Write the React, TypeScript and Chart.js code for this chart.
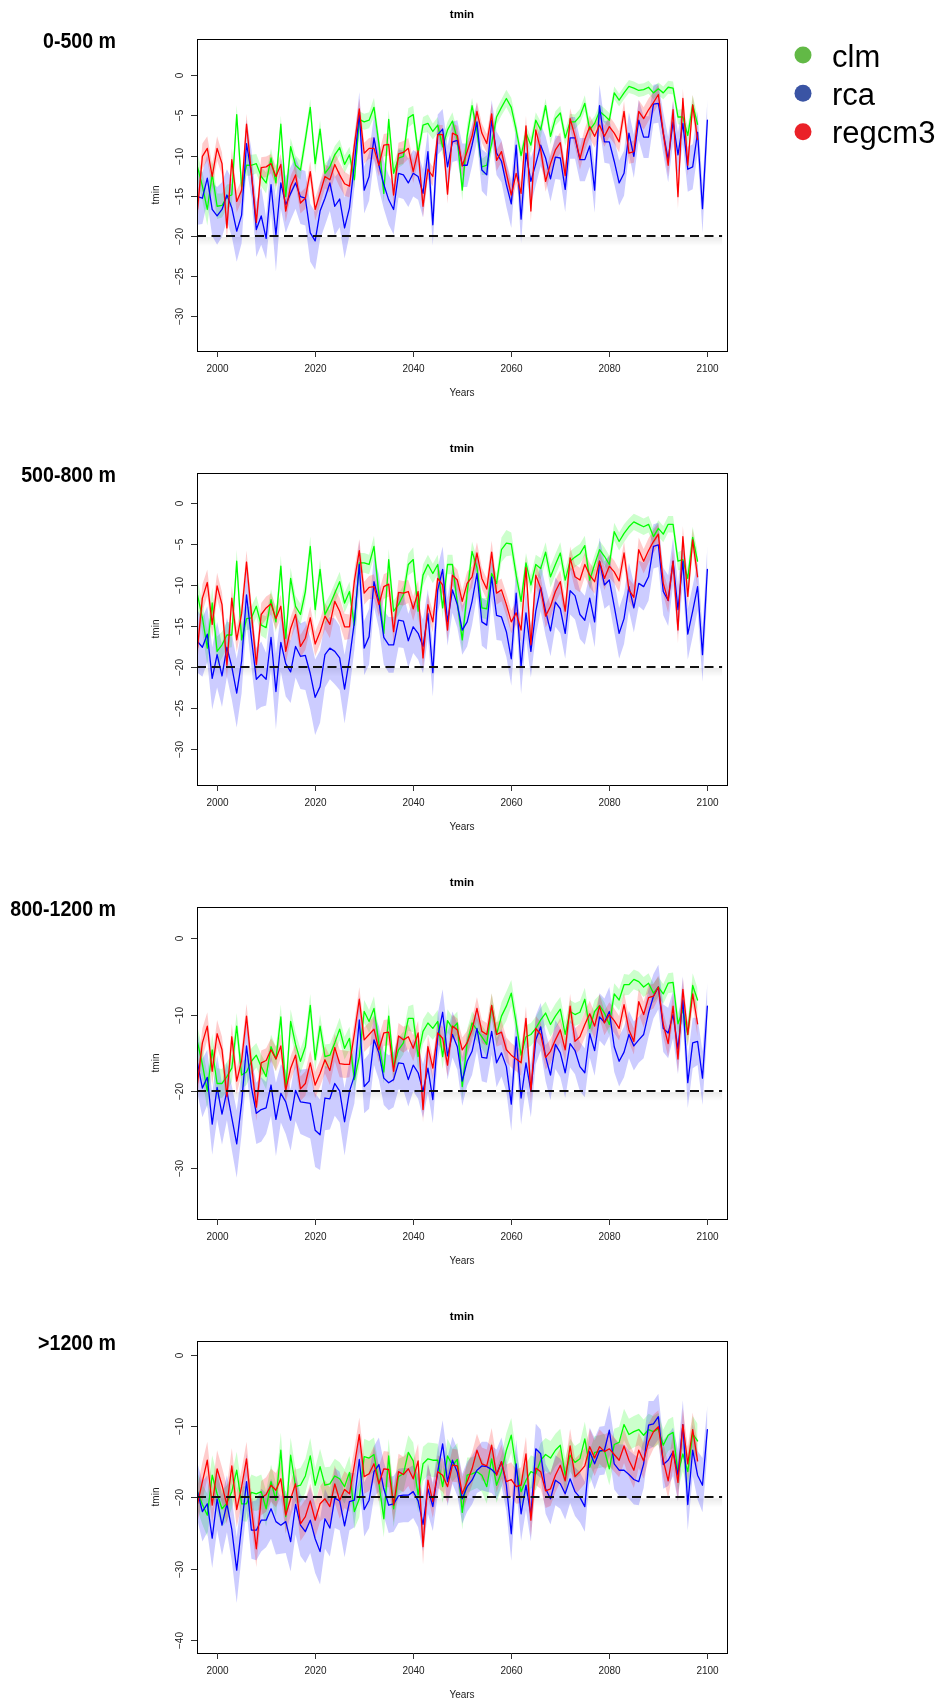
import React, { useEffect, useRef } from "react";
import { Chart, registerables } from "chart.js";

Chart.register(...registerables);

// ---------- axes / labels ----------
const START_YEAR = 1996;
const X_MIN = 1995.9;
const X_MAX = 2104;
const X_TICKS = [2000, 2020, 2040, 2060, 2080, 2100];
const THRESHOLD = -20;
const THRESHOLD_END = 2103;
const REGION_LABELS = ["0-500 m", "500-800 m", "800-1200 m", ">1200 m"];
const Y_TICKS_P1 = [0, -5, -10, -15, -20, -25, -30];
const Y_TICKS_P2 = [0, -5, -10, -15, -20, -25, -30];
const Y_TICKS_P3 = [0, -10, -20, -30];
const Y_TICKS_P4 = [0, -10, -20, -30, -40];
const SERIES_NAMES = ["clm", "rca", "regcm3"];

// ---------- panel 1 : 0-500 m ----------
const P1_CLM = [-11.4,-13.8,-16.7,-12.3,-16.3,-16.2,-15.1,-14.9,-4.9,-13.9,-11.2,-11.2,-11.0,-12.6,-13.4,-10.3,-13.4,-6.1,-15.1,-8.9,-11.2,-11.8,-8.0,-4.0,-11.0,-6.7,-12.2,-11.4,-9.9,-9.0,-11.1,-9.9,-13.0,-5.5,-5.8,-5.6,-4.0,-8.5,-14.7,-5.5,-12.2,-10.3,-10.1,-5.3,-4.9,-9.7,-6.2,-6.0,-7.0,-6.2,-8.9,-6.8,-5.7,-8.0,-14.3,-7.6,-3.8,-7.0,-11.4,-11.2,-8.5,-5.2,-4.0,-2.9,-4.0,-6.8,-10.0,-7.2,-8.7,-5.6,-6.8,-3.8,-7.6,-5.4,-4.7,-7.8,-5.8,-5.8,-5.1,-3.5,-6.8,-6.0,-4.5,-5.0,-5.6,-2.2,-3.1,-2.2,-1.4,-1.6,-1.9,-1.8,-1.5,-2.2,-1.7,-2.2,-1.5,-1.6,-5.2,-5.2,-7.5,-3.7,-6.1];
const P1_RCA = [-15.1,-15.3,-12.8,-16.7,-17.5,-16.7,-14.9,-16.5,-19.4,-17.4,-8.5,-12.2,-19.2,-17.5,-20.3,-13.6,-19.9,-13.4,-16.1,-14.7,-13.4,-15.1,-15.3,-19.6,-20.6,-16.9,-15.3,-13.4,-16.3,-15.4,-19.0,-16.5,-11.0,-4.7,-14.3,-12.6,-7.8,-11.2,-13.6,-15.5,-16.7,-12.2,-12.4,-13.4,-12.2,-12.6,-14.7,-9.5,-18.6,-7.4,-6.7,-11.4,-8.3,-8.1,-11.2,-11.2,-8.7,-5.8,-11.8,-12.4,-5.6,-9.7,-10.7,-13.6,-16.0,-8.7,-17.9,-9.7,-13.2,-11.0,-8.7,-10.3,-12.9,-10.2,-10.3,-14.2,-7.8,-7.8,-10.5,-10.5,-8.8,-14.3,-3.8,-8.3,-8.3,-10.7,-13.4,-12.2,-7.2,-10.1,-5.6,-7.7,-7.7,-3.6,-3.5,-7.2,-10.5,-5.8,-9.9,-6.0,-11.7,-11.4,-7.1,-16.6,-5.6];
const P1_REG = [-16.7,-10.1,-9.1,-12.6,-9.1,-11.0,-19.0,-10.5,-15.7,-14.3,-6.1,-12.2,-18.3,-11.5,-11.4,-11.0,-12.6,-11.1,-16.9,-13.8,-12.4,-15.9,-15.3,-12.0,-16.7,-14.7,-12.6,-13.0,-11.1,-12.4,-13.5,-13.8,-8.7,-4.2,-9.7,-9.1,-9.1,-11.2,-8.7,-8.6,-14.9,-9.8,-9.6,-9.1,-12.0,-9.4,-16.3,-11.7,-12.6,-7.4,-7.4,-14.8,-7.2,-7.5,-11.3,-9.5,-7.6,-4.5,-7.2,-8.5,-4.8,-10.6,-9.5,-12.2,-14.9,-12.2,-14.7,-6.3,-16.9,-6.8,-9.3,-13.2,-11.0,-9.3,-8.4,-12.5,-5.4,-7.6,-10.4,-8.0,-6.4,-7.6,-6.2,-7.6,-6.4,-7.2,-8.3,-4.5,-9.7,-9.5,-4.5,-5.4,-4.3,-3.4,-2.4,-7.2,-11.2,-4.3,-15.1,-2.9,-11.2,-3.7,-8.0];
const P1_CLM_SD = [1.6,1.8,2.0,1.8,1.6,1.5,1.5,1.4,1.2,1.4,1.3,1.3,1.2,1.2,1.3,1.2,1.2,1.1,1.3,1.1,1.2,1.2,1.1,1.0,1.2,1.1,1.2,1.1,1.1,1.0,1.1,1.0,1.1,1.0,1.0,1.0,1.2,1.2,1.1,1.2,1.2,1.2,1.0,1.2,1.1,1.1,1.0,1.1,1.0,1.0,1.1,1.0,1.1,1.0,1.3,1.5,1.0,1.0,1.0,1.2,1.1,1.0,1.0,1.1,1.2,1.0,0.9,1.0,1.0,1.0,1.0,0.9,1.0,0.9,0.9,1.0,1.0,0.9,0.9,1.0,1.0,0.9,0.9,0.9,0.9,0.8,0.8,0.8,0.8,0.8,0.8,0.8,0.8,0.8,0.8,0.8,0.8,0.8,0.9,1.0,1.2,1.2,1.0];
const P1_RCA_SD = [3.5,3.2,3.0,3.3,3.6,3.4,3.2,3.6,3.8,3.5,3.0,3.0,3.4,3.6,2.6,3.4,4.5,3.2,3.5,3.3,3.2,3.4,3.4,3.6,3.6,3.5,3.4,3.5,3.6,3.5,3.8,3.4,3.0,2.6,2.9,3.0,2.8,3.0,3.0,3.1,3.1,3.0,3.0,3.0,2.9,2.9,3.0,2.7,2.6,2.5,2.5,2.6,2.5,2.5,2.7,2.7,2.6,2.4,2.6,2.7,2.5,2.7,2.6,2.8,3.0,2.6,3.0,2.7,2.9,2.7,2.6,2.7,2.8,2.7,2.7,2.8,2.6,2.6,2.7,2.7,2.6,2.8,2.6,2.6,2.7,2.8,2.8,2.8,2.6,2.7,2.5,2.6,2.6,2.4,2.4,2.6,2.8,2.6,2.8,2.6,2.8,2.8,2.6,3.0,2.6];
const P1_REG_SD = [1.4,1.6,1.5,1.5,1.5,1.4,1.6,1.4,1.4,1.3,1.3,1.3,1.5,1.3,1.3,1.2,1.3,1.3,1.4,1.3,1.3,1.3,1.3,1.3,1.4,1.4,1.5,1.6,1.5,1.5,1.5,1.4,1.3,1.3,1.3,1.3,1.4,1.4,1.4,1.4,1.3,1.4,1.4,1.3,1.4,1.3,1.4,1.2,1.2,1.2,1.2,1.2,1.2,1.2,1.3,1.3,1.2,1.2,1.2,1.2,1.3,1.3,1.3,1.3,1.3,1.3,1.4,1.3,1.3,1.3,1.3,1.3,1.3,1.3,1.3,1.3,1.3,1.4,1.4,1.4,1.4,1.4,1.3,1.3,1.3,1.3,1.3,1.3,1.3,1.4,1.4,1.4,1.4,1.3,1.2,1.3,1.4,1.4,1.5,1.2,1.3,1.3,1.4];

// ---------- panel 2 : 500-800 m ----------
const P2_CLM = [-11.2,-14.0,-17.7,-12.2,-18.1,-17.3,-16.1,-16.1,-7.1,-16.7,-14.1,-14.0,-12.6,-14.9,-15.2,-11.8,-14.5,-7.7,-16.5,-9.2,-12.6,-13.6,-10.8,-5.3,-13.0,-8.1,-13.6,-12.4,-11.0,-9.6,-12.2,-10.8,-14.9,-7.3,-7.3,-7.5,-5.3,-11.2,-15.9,-6.9,-13.2,-12.4,-11.2,-7.5,-6.9,-13.2,-8.8,-7.5,-8.6,-7.5,-12.8,-7.5,-7.5,-12.2,-16.7,-11.0,-5.9,-7.9,-12.8,-12.9,-8.6,-9.8,-5.7,-4.9,-5.0,-8.8,-12.0,-7.3,-10.0,-7.5,-8.0,-6.0,-9.0,-7.5,-6.1,-9.4,-7.1,-6.6,-6.2,-5.2,-9.4,-7.5,-5.7,-6.5,-7.5,-3.5,-4.7,-3.7,-2.9,-2.3,-2.6,-2.9,-2.6,-4.1,-3.1,-3.8,-2.6,-2.6,-7.1,-6.9,-9.2,-4.2,-7.1];
const P2_RCA = [-16.9,-17.6,-16.0,-21.4,-18.5,-21.1,-17.6,-20.0,-23.2,-19.3,-11.2,-16.5,-21.5,-20.9,-21.5,-16.4,-23.0,-17.0,-19.6,-20.6,-17.5,-18.7,-18.6,-20.8,-23.7,-22.4,-18.5,-17.7,-18.1,-18.9,-22.7,-19.0,-14.5,-7.5,-17.7,-16.3,-9.6,-12.0,-16.4,-17.3,-17.3,-14.3,-14.4,-16.8,-15.1,-15.9,-17.5,-13.5,-20.7,-10.6,-8.1,-14.5,-10.6,-12.4,-15.5,-14.5,-12.0,-8.6,-14.5,-14.9,-9.0,-13.7,-13.9,-15.7,-19.0,-11.0,-20.0,-13.4,-18.1,-13.2,-10.3,-13.2,-15.6,-12.1,-12.9,-15.9,-10.7,-11.3,-13.6,-14.3,-11.6,-14.5,-7.1,-10.0,-9.4,-12.6,-15.9,-14.1,-10.2,-12.8,-9.8,-10.2,-9.0,-5.3,-5.1,-10.8,-11.9,-7.1,-13.0,-7.1,-16.0,-13.2,-10.2,-18.5,-8.1];
const P2_REG = [-17.7,-11.6,-9.7,-14.8,-10.1,-12.4,-19.8,-11.6,-16.7,-13.5,-7.2,-13.5,-19.7,-13.6,-12.8,-12.3,-14.1,-12.6,-18.1,-15.3,-13.6,-17.5,-16.5,-14.0,-17.2,-15.7,-13.8,-14.8,-12.0,-13.2,-15.1,-15.1,-9.5,-5.8,-11.0,-10.3,-10.2,-12.4,-10.2,-9.9,-15.7,-10.9,-11.0,-10.8,-12.9,-10.8,-18.9,-12.4,-14.5,-9.2,-10.0,-15.5,-8.8,-9.4,-12.0,-9.8,-9.0,-6.1,-9.2,-10.5,-6.0,-11.0,-10.6,-12.4,-14.5,-13.4,-15.5,-7.9,-17.3,-8.8,-10.4,-13.8,-12.6,-10.8,-9.6,-13.2,-6.7,-9.0,-9.4,-7.5,-8.8,-9.6,-7.1,-9.2,-7.7,-8.4,-9.5,-6.1,-10.6,-11.5,-5.7,-7.1,-5.8,-4.7,-3.8,-9.8,-11.9,-7.1,-15.5,-4.1,-11.4,-4.5,-9.0];
const P2_CLM_SD = [1.8,1.9,2.1,1.9,1.8,1.6,1.6,1.5,1.4,1.5,1.4,1.4,1.3,1.3,1.4,1.3,1.3,1.3,1.4,1.3,1.3,1.3,1.3,1.2,1.3,1.2,1.3,1.2,1.2,1.2,1.2,1.2,1.3,1.2,1.2,1.2,1.3,1.3,1.2,1.3,1.3,1.3,1.2,1.3,1.5,1.4,1.3,1.2,1.2,1.2,1.3,1.2,1.2,1.2,1.4,1.5,1.2,1.2,1.2,1.3,1.3,1.2,1.5,1.6,1.4,1.3,1.2,1.2,1.2,1.2,1.3,1.2,1.3,1.3,1.3,1.3,1.2,1.2,1.2,1.2,1.2,1.2,1.1,1.1,1.1,1.1,1.1,1.1,1.0,1.0,1.0,1.0,1.0,1.0,1.0,1.0,1.0,1.0,1.1,1.2,1.3,1.3,1.2];
const P2_RCA_SD = [3.8,3.6,3.4,3.8,4.0,3.8,3.6,4.0,4.2,3.9,3.4,3.5,3.8,4.0,3.2,3.8,4.6,3.6,4.0,3.8,3.8,4.0,4.2,4.4,4.6,4.4,4.0,3.8,4.0,3.9,4.2,3.8,3.4,3.0,3.3,3.4,3.1,3.3,3.3,3.4,3.4,3.3,3.3,3.3,3.2,3.2,3.3,3.0,2.9,2.8,2.8,2.9,2.8,2.8,3.0,3.0,2.9,2.7,2.9,3.0,2.8,3.0,2.9,3.1,3.3,2.9,3.3,3.0,3.2,3.0,2.9,3.0,3.1,3.0,3.0,3.1,2.9,2.9,3.0,3.0,2.9,3.1,2.9,2.9,3.0,3.1,3.1,3.1,2.9,3.0,2.8,2.9,2.9,2.7,2.7,2.9,3.1,2.9,3.1,2.9,3.1,3.1,2.9,3.3,2.9];
const P2_REG_SD = [1.5,1.7,1.6,1.6,1.6,1.5,1.7,1.5,1.5,1.4,1.4,1.4,1.6,1.4,1.4,1.3,1.4,1.4,1.5,1.4,1.4,1.4,1.4,1.4,1.5,1.5,1.6,1.7,1.6,1.6,1.6,1.5,1.4,1.4,1.4,1.4,1.5,1.5,1.5,1.5,1.4,1.5,1.5,1.4,1.5,1.4,1.5,1.3,1.3,1.3,1.3,1.3,1.3,1.3,1.4,1.4,1.3,1.3,1.3,1.3,1.4,1.4,1.4,1.4,1.4,1.4,1.5,1.4,1.4,1.4,1.4,1.4,1.4,1.4,1.4,1.4,1.4,1.5,1.5,1.5,1.5,1.5,1.4,1.4,1.4,1.4,1.4,1.4,1.4,1.5,1.5,1.5,1.5,1.4,1.3,1.4,1.5,1.5,1.6,1.3,1.4,1.4,1.5];

// ---------- panel 3 : 800-1200 m ----------
const P3_CLM = [-13.6,-16.5,-20.0,-14.6,-19.0,-19.0,-18.1,-17.0,-11.5,-17.9,-17.5,-16.1,-15.3,-16.8,-18.1,-14.2,-15.8,-10.3,-19.8,-10.9,-13.9,-16.1,-14.2,-8.8,-15.9,-11.5,-15.5,-15.3,-13.7,-11.9,-14.4,-13.1,-18.5,-15.5,-9.6,-10.9,-9.2,-13.8,-17.5,-10.2,-16.8,-14.6,-13.7,-10.5,-10.5,-15.5,-12.2,-11.1,-11.8,-10.9,-15.5,-10.8,-11.8,-11.1,-19.4,-13.7,-11.1,-12.0,-12.9,-13.9,-8.8,-12.6,-10.2,-8.9,-7.2,-11.1,-15.3,-12.9,-12.6,-11.8,-10.7,-9.8,-11.3,-10.2,-9.3,-12.6,-9.6,-10.0,-9.7,-8.0,-11.8,-9.6,-8.8,-9.8,-11.3,-7.3,-8.1,-6.1,-6.1,-5.4,-5.7,-6.4,-5.9,-7.2,-6.4,-7.3,-5.9,-5.8,-11.2,-9.4,-12.6,-6.2,-8.1];
const P3_RCA = [-16.3,-19.6,-18.2,-24.3,-19.5,-23.0,-20.0,-23.5,-26.9,-21.5,-14.1,-19.5,-22.9,-22.4,-22.2,-19.2,-23.7,-20.3,-21.4,-23.8,-19.9,-21.4,-21.5,-21.6,-25.1,-25.7,-20.9,-21.0,-19.0,-20.0,-24.0,-20.0,-18.0,-10.7,-19.4,-18.7,-13.3,-15.0,-18.3,-18.9,-18.5,-16.3,-16.4,-18.5,-16.6,-17.6,-20.0,-17.0,-21.1,-12.9,-9.7,-15.4,-12.6,-14.2,-18.7,-16.1,-14.8,-11.8,-15.6,-15.7,-12.2,-16.3,-15.0,-16.8,-21.7,-12.9,-20.9,-16.3,-20.0,-13.3,-11.6,-15.5,-17.9,-13.9,-15.0,-17.6,-13.8,-14.7,-16.8,-17.6,-12.5,-14.7,-10.3,-11.0,-9.6,-14.2,-16.1,-14.9,-12.6,-14.1,-13.3,-12.6,-9.8,-7.6,-6.4,-11.8,-12.4,-10.0,-14.5,-8.1,-18.9,-13.7,-13.5,-18.3,-8.9];
const P3_REG = [-19.0,-13.7,-11.5,-17.4,-12.5,-14.6,-20.7,-12.9,-18.7,-16.0,-10.2,-16.5,-22.1,-16.3,-16.0,-14.6,-15.8,-14.1,-19.9,-17.0,-15.3,-19.7,-19.0,-16.3,-19.2,-17.7,-15.9,-17.3,-14.3,-16.4,-16.5,-16.5,-12.5,-8.0,-13.3,-12.6,-11.9,-14.6,-12.4,-12.3,-17.4,-12.8,-13.3,-12.9,-14.4,-12.4,-22.4,-14.2,-17.0,-12.4,-13.1,-16.6,-11.5,-12.0,-14.6,-13.7,-12.0,-9.2,-12.2,-12.6,-8.8,-12.6,-12.3,-14.6,-15.3,-15.8,-16.3,-10.5,-20.0,-11.8,-12.6,-15.6,-14.8,-13.3,-12.0,-14.6,-8.9,-13.5,-12.9,-11.3,-9.9,-11.5,-8.9,-11.1,-10.0,-10.8,-11.8,-8.7,-12.0,-13.5,-8.3,-10.0,-7.8,-7.6,-6.4,-11.3,-13.8,-8.9,-15.8,-6.7,-12.6,-7.3,-11.2];
const P3_CLM_SD = [2.0,2.1,2.3,2.1,2.0,1.9,1.9,1.8,1.7,1.8,1.7,1.7,1.6,1.6,1.7,1.6,1.6,1.6,1.7,1.6,1.6,1.6,1.6,1.5,1.6,1.5,1.6,1.5,1.5,1.5,1.5,1.5,1.6,1.5,1.5,1.5,1.6,1.6,1.5,1.6,1.6,1.6,1.5,1.6,1.8,1.7,1.6,1.5,1.5,1.5,1.6,1.5,1.5,1.5,1.7,1.8,1.5,1.5,1.5,1.6,1.6,1.5,1.8,1.9,1.7,1.6,1.5,1.5,1.5,1.5,1.6,1.5,1.6,1.6,1.6,1.6,1.5,1.5,1.5,1.5,1.5,1.5,1.4,1.4,1.4,1.4,1.4,1.4,1.3,1.3,1.3,1.3,1.3,1.3,1.3,1.3,1.3,1.3,1.4,1.5,1.6,1.6,1.5];
const P3_RCA_SD = [4.0,3.8,3.6,4.0,4.2,4.0,3.8,4.2,4.4,4.1,3.6,3.7,4.0,4.2,3.4,4.0,4.8,3.8,4.2,4.0,4.0,4.2,4.4,4.6,4.8,4.6,4.2,4.0,4.2,4.1,4.4,4.0,3.6,3.2,3.5,3.6,3.3,3.5,3.5,3.6,3.6,3.5,3.5,3.5,3.4,3.4,3.5,3.2,3.1,3.0,3.0,3.1,3.0,3.0,3.2,3.2,3.1,2.9,3.1,3.2,3.0,3.2,3.1,3.3,3.5,3.1,3.5,3.2,3.4,3.2,3.1,3.2,3.3,3.2,3.2,3.3,3.1,3.1,3.2,3.2,3.1,3.3,3.1,3.1,3.2,3.3,3.3,3.3,3.1,3.2,3.0,3.1,3.1,2.9,2.9,3.1,3.3,3.1,3.3,3.1,3.3,3.3,3.1,3.5,3.1];
const P3_REG_SD = [1.7,1.9,1.8,1.8,1.8,1.7,1.9,1.7,1.7,1.6,1.6,1.6,1.8,1.6,1.6,1.5,1.6,1.6,1.7,1.6,1.6,1.6,1.6,1.6,1.7,1.7,1.8,1.9,1.8,1.8,1.8,1.7,1.6,1.6,1.6,1.6,1.7,1.7,1.7,1.7,1.6,1.7,1.7,1.6,1.7,1.6,1.7,1.5,1.5,1.5,1.5,1.5,1.5,1.5,1.6,1.6,1.5,1.5,1.5,1.5,1.6,1.6,1.6,1.6,1.6,1.6,1.7,1.6,1.6,1.6,1.6,1.6,1.6,1.6,1.6,1.6,1.6,1.7,1.7,1.7,1.7,1.7,1.6,1.6,1.6,1.6,1.6,1.6,1.6,1.7,1.7,1.7,1.7,1.6,1.5,1.6,1.7,1.7,1.8,1.5,1.6,1.6,1.7];

// ---------- panel 4 : >1200 m ----------
const P4_CLM = [-19.2,-21.0,-22.5,-16.9,-19.5,-21.6,-20.8,-19.2,-16.2,-20.9,-20.9,-19.3,-19.5,-19.2,-21.6,-17.8,-20.4,-13.4,-22.7,-14.1,-18.5,-18.3,-17.0,-14.2,-18.3,-15.7,-18.3,-18.1,-17.0,-17.4,-18.5,-16.5,-22.0,-20.2,-14.3,-14.5,-14.0,-18.0,-23.0,-14.2,-21.6,-17.1,-16.7,-13.7,-14.9,-19.7,-15.3,-14.6,-14.8,-14.8,-18.5,-14.2,-15.5,-14.7,-22.1,-16.9,-16.7,-16.4,-16.9,-18.5,-14.6,-18.3,-16.4,-13.4,-11.3,-16.0,-19.2,-17.6,-16.4,-16.7,-14.8,-14.0,-14.5,-13.4,-12.7,-16.9,-14.1,-15.1,-14.6,-11.8,-15.8,-13.7,-13.6,-13.4,-16.0,-12.6,-12.3,-9.8,-11.2,-10.8,-10.5,-11.3,-10.5,-10.8,-10.4,-12.7,-11.3,-10.9,-16.7,-13.9,-16.4,-11.1,-12.1];
const P4_RCA = [-19.2,-22.0,-20.9,-25.7,-20.2,-23.9,-20.9,-24.5,-30.2,-24.0,-17.8,-24.6,-24.6,-23.2,-23.2,-21.6,-23.4,-23.9,-23.4,-26.2,-21.0,-23.9,-24.8,-23.2,-25.8,-27.6,-23.0,-24.3,-20.1,-20.5,-24.0,-20.6,-20.4,-14.7,-21.7,-20.4,-16.4,-15.4,-18.8,-21.1,-20.9,-19.8,-19.7,-19.7,-19.2,-20.5,-23.8,-18.8,-21.3,-16.4,-12.5,-17.8,-14.8,-16.5,-20.2,-18.5,-17.6,-16.2,-15.6,-15.7,-16.1,-16.8,-15.0,-18.3,-25.1,-15.3,-22.3,-18.3,-22.5,-13.2,-13.9,-18.8,-20.2,-17.6,-18.1,-19.5,-17.4,-19.2,-20.0,-21.3,-13.6,-15.3,-13.5,-13.4,-10.6,-15.3,-16.2,-16.2,-16.8,-17.5,-17.8,-15.3,-9.9,-9.7,-8.7,-15.4,-14.8,-13.6,-16.9,-9.8,-21.0,-13.4,-16.9,-18.3,-10.5];
const P4_REG = [-20.9,-17.8,-14.8,-21.1,-16.0,-18.3,-21.1,-15.6,-21.7,-18.5,-14.6,-21.5,-27.2,-20.1,-19.6,-18.3,-19.0,-17.4,-22.5,-20.2,-18.1,-23.7,-22.7,-20.5,-23.2,-20.9,-20.2,-21.3,-18.1,-20.4,-18.9,-19.5,-15.5,-11.2,-17.1,-16.7,-15.3,-18.1,-16.0,-16.1,-21.1,-16.4,-16.8,-16.0,-17.4,-14.9,-26.9,-17.6,-20.6,-16.4,-16.9,-18.5,-15.5,-15.6,-19.5,-17.8,-16.0,-13.4,-15.3,-15.6,-12.7,-16.9,-15.0,-17.8,-17.5,-18.5,-18.3,-13.9,-23.2,-15.9,-16.4,-19.1,-18.8,-16.9,-15.5,-17.7,-12.8,-17.1,-16.4,-15.6,-12.9,-14.5,-12.9,-13.6,-13.2,-14.0,-14.8,-12.8,-14.8,-16.2,-13.4,-14.9,-12.2,-10.8,-10.1,-14.8,-17.7,-13.5,-17.9,-9.8,-15.3,-10.5,-14.9];
const P4_CLM_SD = [2.6,2.8,3.0,2.8,2.6,2.5,2.5,2.4,2.6,2.4,2.5,2.5,2.4,2.4,2.5,2.4,2.4,2.5,2.5,2.5,2.4,2.4,2.4,2.5,2.4,2.5,2.5,2.4,2.4,2.3,2.4,2.3,2.4,2.6,2.5,2.4,2.4,2.5,2.6,2.4,2.6,2.5,2.4,2.4,2.6,2.5,2.4,2.3,2.4,2.3,2.3,2.4,2.3,2.3,2.4,2.5,2.3,2.3,2.3,2.4,2.4,2.5,2.3,2.4,2.4,2.3,2.3,2.3,2.3,2.3,2.4,2.3,2.4,2.3,2.3,2.4,2.3,2.3,2.3,2.4,2.4,2.3,2.3,2.3,2.3,2.2,2.2,2.2,2.2,2.2,2.2,2.2,2.2,2.2,2.2,2.2,2.2,2.2,2.3,2.4,2.5,2.5,2.4];
const P4_RCA_SD = [4.0,4.2,4.0,4.2,4.4,4.2,4.0,4.4,4.6,4.3,4.0,4.0,4.2,4.4,3.8,4.2,4.6,4.0,4.4,4.2,4.2,4.3,4.4,4.6,4.8,4.6,4.2,4.0,4.2,4.1,4.4,4.0,3.8,3.6,3.8,3.9,3.6,3.8,3.8,3.9,3.9,3.8,3.8,3.8,3.7,3.7,3.8,3.5,3.4,3.3,3.3,3.4,3.3,3.3,3.5,3.5,3.4,3.2,3.4,3.5,3.3,3.5,3.4,3.6,3.8,3.4,3.8,3.5,3.7,3.5,3.4,3.5,3.6,3.5,3.5,3.6,3.4,3.4,3.5,3.5,3.4,3.6,3.4,3.4,3.5,3.6,3.6,3.6,3.4,3.5,3.3,3.4,3.4,3.2,3.2,3.4,3.6,3.4,3.6,3.4,3.6,3.6,3.4,3.8,3.4];
const P4_REG_SD = [2.5,2.7,2.6,2.6,2.6,2.5,2.7,2.5,2.5,2.4,2.4,2.4,2.6,2.4,2.4,2.3,2.4,2.4,2.5,2.4,2.4,2.4,2.4,2.4,2.5,2.5,2.6,2.7,2.6,2.6,2.6,2.5,2.4,2.4,2.4,2.4,2.5,2.5,2.5,2.5,2.4,2.5,2.5,2.4,2.5,2.4,2.5,2.3,2.3,2.3,2.3,2.3,2.3,2.3,2.4,2.4,2.3,2.3,2.3,2.3,2.4,2.4,2.4,2.4,2.4,2.4,2.5,2.4,2.4,2.4,2.4,2.4,2.4,2.4,2.4,2.4,2.4,2.5,2.5,2.5,2.5,2.5,2.4,2.4,2.4,2.4,2.4,2.4,2.4,2.5,2.5,2.5,2.5,2.4,2.3,2.4,2.5,2.5,2.6,2.3,2.4,2.4,2.5];

// ---------- panel table (built from the arrays above) ----------
const PANELS = [
  { label: REGION_LABELS[0], yMin: -34.3, yMax: 4.5, yTicks: Y_TICKS_P1, clm: [P1_CLM, P1_CLM_SD], rca: [P1_RCA, P1_RCA_SD], reg: [P1_REG, P1_REG_SD] },
  { label: REGION_LABELS[1], yMin: -34.4, yMax: 3.66, yTicks: Y_TICKS_P2, clm: [P2_CLM, P2_CLM_SD], rca: [P2_RCA, P2_RCA_SD], reg: [P2_REG, P2_REG_SD] },
  { label: REGION_LABELS[2], yMin: -36.7, yMax: 4.05, yTicks: Y_TICKS_P3, clm: [P3_CLM, P3_CLM_SD], rca: [P3_RCA, P3_RCA_SD], reg: [P3_REG, P3_REG_SD] },
  { label: REGION_LABELS[3], yMin: -41.8, yMax: 1.9, yTicks: Y_TICKS_P4, clm: [P4_CLM, P4_CLM_SD], rca: [P4_RCA, P4_RCA_SD], reg: [P4_REG, P4_REG_SD] },
];

const PANEL_W = 944;
const PANEL_H = 434;
const SANS = '"Liberation Sans", Arial, Helvetica, sans-serif';

const LINE_COLORS = { clm: "#00ff00", rca: "#0000ff", reg: "#ff0000" };
const BAND_COLORS = { clm: "rgba(0,255,0,0.2)", rca: "rgba(0,0,255,0.2)", reg: "rgba(255,0,0,0.2)" };
const LEGEND_COLORS = ["#62b946", "#3a54a4", "#ea2128"];

function toPts(vals: number[], sd: number[] | null, sign: number) {
  return vals.map((v, i) => {
    const s = sd ? (sd[i] !== undefined ? sd[i] : sd[sd.length - 1]) : 0;
    return { x: START_YEAR + i, y: v + sign * s };
  });
}

function buildDatasets(p: any) {
  const ds: any[] = [];
  const keys: Array<"clm" | "rca" | "reg"> = ["clm", "rca", "reg"];
  const bandOrder = { clm: 13, rca: 12, reg: 11 };
  const lineOrder = { clm: 3, rca: 2, reg: 1 };
  keys.forEach((k) => {
    const [vals, sd] = p[k];
    const lowerIdx = ds.length;
    ds.push({
      label: k + "-lo", data: toPts(vals, sd, -1), borderWidth: 0, pointRadius: 0,
      fill: false, order: bandOrder[k], borderColor: "rgba(0,0,0,0)",
    });
    ds.push({
      label: k + "-hi", data: toPts(vals, sd, 1), borderWidth: 0, pointRadius: 0,
      fill: { target: lowerIdx }, backgroundColor: BAND_COLORS[k], order: bandOrder[k], borderColor: "rgba(0,0,0,0)",
    });
  });
  keys.forEach((k) => {
    const [vals] = p[k];
    ds.push({
      label: k, data: toPts(vals, null, 0), borderColor: LINE_COLORS[k], borderWidth: 1.3,
      pointRadius: 0, fill: false, order: lineOrder[k], borderJoinStyle: "round", borderCapStyle: "round",
    });
  });
  return ds;
}

function decorPlugin(p: any, idx: number) {
  return {
    id: "decor" + idx,
    beforeDatasetsDraw(chart: any) {
      const { ctx, chartArea: a, scales } = chart;
      const ty = scales.y.getPixelForValue(THRESHOLD);
      const x1 = scales.x.getPixelForValue(THRESHOLD_END);
      ctx.save();
      const g = ctx.createLinearGradient(0, ty, 0, ty + 10);
      g.addColorStop(0, "rgba(0,0,0,0.09)");
      g.addColorStop(1, "rgba(0,0,0,0)");
      ctx.fillStyle = g;
      ctx.fillRect(a.left, ty + 1, x1 - a.left, 9);
      ctx.restore();
    },
    afterDatasetsDraw(chart: any) {
      const { ctx, chartArea: a, scales } = chart;
      const ty = scales.y.getPixelForValue(THRESHOLD);
      const x1 = scales.x.getPixelForValue(THRESHOLD_END);
      ctx.save();
      ctx.strokeStyle = "#111";
      ctx.lineWidth = 2;
      ctx.setLineDash([9, 5.5]);
      ctx.beginPath();
      ctx.moveTo(a.left, Math.round(ty));
      ctx.lineTo(x1, Math.round(ty));
      ctx.stroke();
      ctx.restore();
    },
    afterDraw(chart: any) {
      const { ctx, chartArea: a, scales } = chart;
      const cx = (a.left + a.right) / 2;
      ctx.save();
      // box
      ctx.strokeStyle = "#000";
      ctx.lineWidth = 1;
      ctx.strokeRect(Math.round(a.left) + 0.5, Math.round(a.top) + 0.5, Math.round(a.right - a.left), Math.round(a.bottom - a.top));
      // x ticks
      ctx.fillStyle = "#222";
      ctx.strokeStyle = "#333";
      ctx.font = "10px " + SANS;
      ctx.textAlign = "center";
      ctx.textBaseline = "middle";
      X_TICKS.forEach((t) => {
        const px = Math.round(scales.x.getPixelForValue(t)) + 0.5;
        ctx.beginPath();
        ctx.moveTo(px, a.bottom);
        ctx.lineTo(px, a.bottom + 6);
        ctx.stroke();
        ctx.fillText(String(t), px, a.bottom + 18);
      });
      // y ticks (rotated labels)
      p.yTicks.forEach((t: number) => {
        const py = Math.round(scales.y.getPixelForValue(t)) + 0.5;
        ctx.beginPath();
        ctx.moveTo(a.left - 6, py);
        ctx.lineTo(a.left, py);
        ctx.stroke();
        ctx.save();
        ctx.translate(a.left - 17, py);
        ctx.rotate(-Math.PI / 2);
        ctx.fillText(t < 0 ? "\u2212" + Math.abs(t) : String(t), 0, 0);
        ctx.restore();
      });
      // axis titles
      ctx.save();
      ctx.translate(156, (a.top + a.bottom) / 2);
      ctx.rotate(-Math.PI / 2);
      ctx.fillText("tmin", 0, 0);
      ctx.restore();
      ctx.fillText("Years", cx, 393);
      ctx.font = "bold 11.5px " + SANS;
      ctx.fillStyle = "#000";
      ctx.fillText("tmin", cx, 14.5);
      // region label (condensed bold, squeezed to the reference width)
      ctx.font = "bold 22px " + SANS;
      ctx.textAlign = "right";
      ctx.textBaseline = "alphabetic";
      const refW = ctx.measureText(REGION_LABELS[0]).width;
      const sx = refW > 0 ? 73 / refW : 1;
      ctx.save();
      ctx.translate(116, 48);
      ctx.scale(sx, 1);
      ctx.fillText(p.label, 0, 0);
      ctx.restore();
      // legend (first panel only)
      if (idx === 0) {
        const rows = [55, 93.3, 131.7];
        ctx.font = "31px " + SANS;
        ctx.textAlign = "left";
        SERIES_NAMES.forEach((name, i) => {
          ctx.fillStyle = LEGEND_COLORS[i];
          ctx.beginPath();
          ctx.arc(803, rows[i], 8.5, 0, Math.PI * 2);
          ctx.fill();
          ctx.fillStyle = "#000";
          ctx.fillText(name, 832, rows[i] + 11.5);
        });
      }
      ctx.restore();
    },
  };
}

function Panel({ p, idx }: { p: any; idx: number }) {
  const ref = useRef<HTMLCanvasElement | null>(null);
  useEffect(() => {
    if (!ref.current) return;
    const chart = new Chart(ref.current, {
      type: "line",
      data: { datasets: buildDatasets(p) },
      options: {
        animation: false,
        responsive: false,
        devicePixelRatio: 1,
        parsing: false as any,
        normalized: true,
        layout: { padding: { left: 197, right: PANEL_W - 727, top: 39, bottom: PANEL_H - 351 } },
        scales: {
          x: { type: "linear", min: X_MIN, max: X_MAX, display: false },
          y: { type: "linear", min: p.yMin, max: p.yMax, display: false },
        },
        plugins: { legend: { display: false }, tooltip: { enabled: false }, title: { display: false } },
        elements: { line: { tension: 0 } },
      },
      plugins: [decorPlugin(p, idx)],
    } as any);
    return () => chart.destroy();
  }, [p, idx]);
  return (
    <canvas
      ref={ref}
      width={PANEL_W}
      height={PANEL_H}
      style={{ position: "absolute", left: 0, top: idx * PANEL_H, width: PANEL_W, height: PANEL_H, display: "block" }}
    />
  );
}

export default function App() {
  return (
    <div style={{ position: "fixed", left: 0, top: 0, width: 944, height: 1701, overflow: "hidden", background: "#fff" }}>
      {PANELS.map((p, i) => (
        <Panel key={i} p={p} idx={i} />
      ))}
    </div>
  );
}
